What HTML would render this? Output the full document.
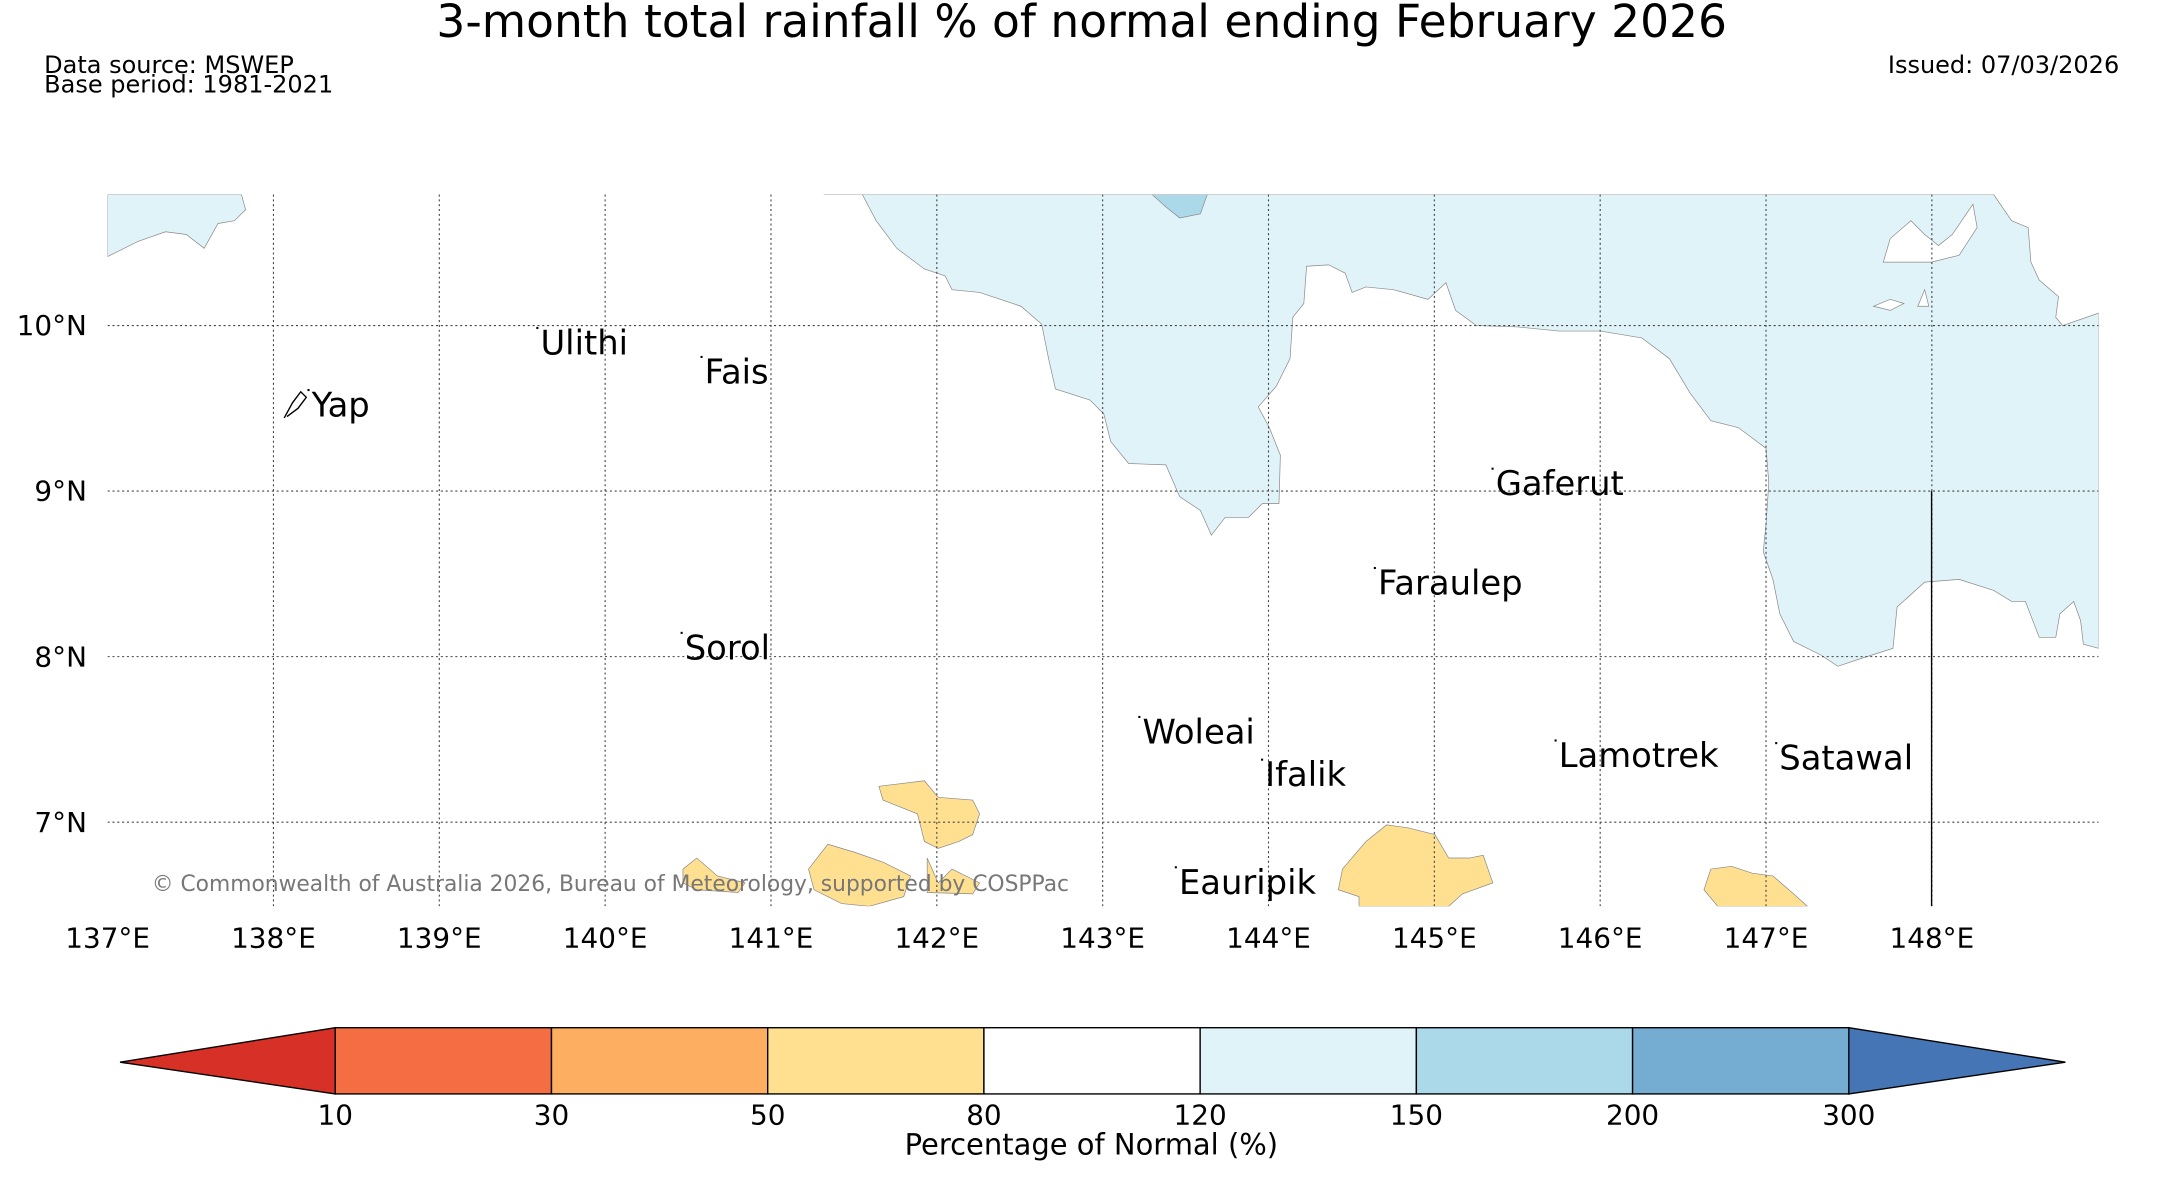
<!DOCTYPE html>
<html><head><meta charset="utf-8"><style>
html,body{margin:0;padding:0;background:#fff}
svg{display:block}
text{font-family:"DejaVu Sans","Liberation Sans",sans-serif}
</style></head><body>
<svg id="chart" width="2162" height="1196" viewBox="0 0 1567 867" preserveAspectRatio="none" xmlns="http://www.w3.org/2000/svg">
<rect width="1600" height="900" fill="#fff"/>
<text x="784" y="27" font-size="33" text-anchor="middle">3-month total rainfall % of normal ending February 2026</text>
<text x="32" y="53" font-size="17.4">Data source: MSWEP</text>
<text x="32" y="67" font-size="17.4">Base period: 1981-2021</text>
<text x="1536" y="53" font-size="17.4" text-anchor="end">Issued: 07/03/2026</text>
<defs><clipPath id="mapclip"><rect x="78" y="141" width="1443" height="516"/></clipPath></defs>
<g clip-path="url(#mapclip)">
<path fill="#e0f3f8" stroke="#888" stroke-width="0.5" d="M78,141 L175,141 178,152 170,160 158,162 148,180 135,170 120,168 100,175 80,185 78,186 Z"/>
<path fill="#e0f3f8" stroke="#888" stroke-width="0.5" d="M597,141 L625,141 635,160 650,180 670,195 685,200 690,210 710,212 740,222 755,235 760,260 765,282 790,290 800,300 805,320 818,336 845,337 855,360 870,370 878,388 888,375 905,375 915,365 927,365 928,330 920,310 912,295 925,280 935,260 937,230 945,220 947,193 963,192 975,198 980,212 990,208 1010,210 1035,217 1048,205 1055,225 1070,236 1100,237 1130,240 1160,240 1190,245 1210,260 1225,285 1240,305 1260,310 1280,325 1282,350 1280,380 1278,400 1285,420 1290,445 1300,465 1320,475 1332,483 1350,477 1372,470 1375,440 1395,422 1420,420 1445,428 1458,436 1468,436 1478,462 1490,462 1493,445 1503,436 1508,450 1510,467 1521,470 1521,227 1495,236 1490,230 1492,215 1478,203 1472,190 1470,165 1458,160 1445,141 Z"/>
<path fill="#fff" stroke="#888" stroke-width="0.5" d="M1365,190 L1370,173 1385,160 1395,170 1405,178 1415,170 1430,148 1433,165 1420,185 1400,190 Z"/>
<path fill="#fff" stroke="#888" stroke-width="0.5" d="M1358,222 L1370,217 1380,220 1370,225 Z M1390,222 L1395,210 1398,222 Z"/>
<path fill="#abd9e9" stroke="#888" stroke-width="0.5" d="M835,141 L875,141 870,155 855,158 845,150 Z"/>
<path fill="#fee090" stroke="#888" stroke-width="0.5" d="M637,570 L670,566 680,578 705,580 710,590 705,605 695,610 680,615 670,610 665,590 640,580 Z"/>
<path fill="#fee090" stroke="#888" stroke-width="0.5" d="M600,612 L620,618 640,625 660,635 655,650 630,657 610,655 590,645 586,630 Z"/>
<path fill="#fee090" stroke="#888" stroke-width="0.5" d="M495,630 L505,622 520,635 540,640 535,647 505,645 495,640 Z"/>
<path fill="#fee090" stroke="#888" stroke-width="0.5" d="M672,622 L680,640 690,630 710,640 705,648 672,647 Z"/>
<path fill="#fee090" stroke="#888" stroke-width="0.5" d="M973,630 L990,610 1005,598 1020,600 1040,605 1050,622 1065,622 1075,620 1082,640 1060,648 1050,657 985,657 985,650 970,645 Z"/>
<path fill="#fee090" stroke="#888" stroke-width="0.5" d="M1240,630 L1255,628 1270,633 1285,635 1300,648 1310,657 1245,657 1235,645 Z"/>
<path fill="none" stroke="#000" stroke-width="1" d="M206,303 L212,292 218,284 222,288 216,296 208,302"/>
<g id="grid"></g>
<line x1="1400" y1="356" x2="1400" y2="657" stroke="#000" stroke-width="1"/>
<g id="islands"></g>
<text x="110" y="646" font-size="15.8" fill="#777">© Commonwealth of Australia 2026, Bureau of Meteorology, supported by COSPPac</text>
</g>
<g id="ticks"></g>
<g id="cbar"></g>
<text x="791" y="837" font-size="21" text-anchor="middle">Percentage of Normal (%)</text>
</svg>
<script>
const lonTicks=[137,138,139,140,141,142,143,144,145,146,147,148];
const latTicks=[7,8,9,10];
const islandNames=["Ulithi","Fais","Yap","Gaferut","Faraulep","Sorol","Woleai","Ifalik","Lamotrek","Satawal","Eauripik"];
const islandLons=[139.61,140.60,138.23,145.37,144.66,140.48,143.24,143.98,145.75,147.08,143.46];
const islandLats=[9.825,9.65,9.45,8.975,8.375,7.983,7.475,7.217,7.333,7.317,6.567];
const cbarBounds=[10,30,50,80,120,150,200,300];
const cbarColors=["#d73027","#f46d43","#fdae61","#fee090","#ffffff","#e0f3f8","#abd9e9","#74add1","#4575b4"];
const NS="http://www.w3.org/2000/svg";
const xLon=l=>78+(l-137)*120.2;
const yLat=a=>236-(a-10)*120;
function mk(tag,attrs,parent){const e=document.createElementNS(NS,tag);for(const k in attrs)e.setAttribute(k,attrs[k]);parent.appendChild(e);return e;}
const grid=document.getElementById('grid'),ticks=document.getElementById('ticks');
lonTicks.forEach(l=>{
 const x=xLon(l);
 if(l>137){const g=mk('line',{x1:x,y1:141,x2:x,y2:657,stroke:'#444','stroke-width':0.8,'stroke-dasharray':'1.5,2'},grid);
 
 }
 const t=mk('text',{x:x,y:687,'font-size':20.2,'text-anchor':'middle'},ticks);t.textContent=l+'°E';
 
 
});
latTicks.forEach(a=>{
 const y=yLat(a);
 const g=mk('line',{x1:78,y1:y,x2:1521,y2:y,stroke:'#444','stroke-width':0.8,'stroke-dasharray':'1.5,2'},grid);
 
 
 const t=mk('text',{x:63,y:y+7,'font-size':20.2,'text-anchor':'end'},ticks);t.textContent=a+'°N';
 
 
});
const isl=document.getElementById('islands');
islandNames.forEach((n,i)=>{
 const x=xLon(islandLons[i]),y=yLat(islandLats[i]);
 const d=mk('rect',{x:x-3,y:y-20,width:1.5,height:1.5,fill:'#000'},isl);
 
 
 const t=mk('text',{x:x,y:y,'font-size':24.5},isl);t.textContent=n;
 
 
});
const cb=document.getElementById('cbar');
const cx0=243,cx1=1340,cy0=745,cy1=793,cw=(cx1-cx0)/(cbarBounds.length-1);
const lt=mk('polygon',{points:`87,770 ${cx0},${cy0} ${cx0},${cy1}`,fill:cbarColors[0],stroke:'#000','stroke-width':1},cb);


const rt=mk('polygon',{points:`1497,770 ${cx1},${cy0} ${cx1},${cy1}`,fill:cbarColors[cbarColors.length-1],stroke:'#000','stroke-width':1},cb);


for(let i=0;i<cbarBounds.length-1;i++){
 const r=mk('rect',{x:cx0+i*cw,y:cy0,width:cw,height:cy1-cy0,fill:cbarColors[i+1],stroke:'#000','stroke-width':1},cb);
 
 
}
cbarBounds.forEach((b,i)=>{
 const t=mk('text',{x:cx0+i*cw,y:815,'font-size':20.2,'text-anchor':'middle'},cb);t.textContent=b;
 
 
});
</script>
</body></html>
